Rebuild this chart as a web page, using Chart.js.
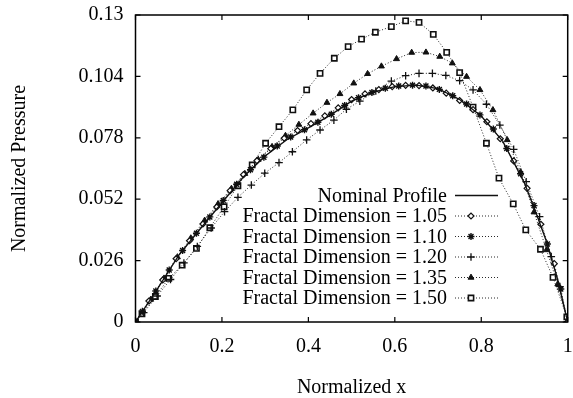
<!DOCTYPE html>
<html>
<head>
<meta charset="utf-8">
<script src="https://cdn.jsdelivr.net/npm/chart.js@4/dist/chart.umd.min.js"></script>
<style>
html,body{margin:0;padding:0;background:#fff;}
#c{display:block;}
</style>
</head>
<body>
<canvas id="c" width="573" height="398"></canvas>
<script>
// ---- data ----
const xTickValues = [0, 0.2, 0.4, 0.6, 0.8, 1];
const xTickLabels = ['0', '0.2', '0.4', '0.6', '0.8', '1'];
const yTickValues = [0, 0.026, 0.052, 0.078, 0.104, 0.13];
const yTickLabels = ['0', '0.026', '0.052', '0.078', '0.104', '0.13'];

const seriesLabels = ['Nominal Profile', 'Fractal Dimension = 1.05', 'Fractal Dimension = 1.10',
  'Fractal Dimension = 1.20', 'Fractal Dimension = 1.35', 'Fractal Dimension = 1.50'];

const nominalX = [0, 0.05, 0.1, 0.15, 0.2, 0.25, 0.3, 0.35, 0.4, 0.45, 0.5, 0.55, 0.6, 0.65, 0.7, 0.75, 0.8, 0.85, 0.9, 0.925, 0.95, 0.975, 1.0];
const nominalY = [0, 0.0138, 0.0282, 0.0395, 0.0505, 0.0615, 0.0703, 0.0772, 0.0822, 0.0875, 0.0935, 0.0973, 0.0997, 0.1003, 0.0988, 0.0942, 0.0872, 0.0765, 0.0588, 0.0470, 0.0345, 0.0190, 0];

const fd105X = [0, 0.031, 0.063, 0.094, 0.125, 0.156, 0.188, 0.219, 0.25, 0.281, 0.313, 0.344, 0.375, 0.406, 0.438, 0.469, 0.5, 0.531, 0.563, 0.594, 0.625, 0.656, 0.688, 0.719, 0.75, 0.781, 0.813, 0.844, 0.875, 0.906, 0.938, 0.969, 1.0];
const fd105Y = [0, 0.0089, 0.0178, 0.0268, 0.0344, 0.0415, 0.0487, 0.0556, 0.0624, 0.0683, 0.0734, 0.0778, 0.0811, 0.0840, 0.0873, 0.0907, 0.0942, 0.0966, 0.0984, 0.0997, 0.1002, 0.1001, 0.0991, 0.0969, 0.0938, 0.0899, 0.0848, 0.0776, 0.0682, 0.0566, 0.0414, 0.0247, 0];

const fd110X = [0, 0.016, 0.047, 0.078, 0.109, 0.141, 0.172, 0.203, 0.234, 0.266, 0.297, 0.328, 0.359, 0.391, 0.422, 0.453, 0.484, 0.516, 0.547, 0.578, 0.609, 0.641, 0.672, 0.703, 0.734, 0.766, 0.797, 0.828, 0.859, 0.891, 0.922, 0.953, 0.984, 1.0];
const fd110Y = [0, 0.0045, 0.0131, 0.0220, 0.0303, 0.0376, 0.0445, 0.0515, 0.0583, 0.0645, 0.0698, 0.0745, 0.0783, 0.0814, 0.0846, 0.0880, 0.0917, 0.0950, 0.0972, 0.0990, 0.0999, 0.1003, 0.0999, 0.0985, 0.0958, 0.0923, 0.0877, 0.0817, 0.0735, 0.0628, 0.0493, 0.0330, 0.0140, 0];

const fd120X = [0, 0.019, 0.05, 0.081, 0.112, 0.143, 0.175, 0.206, 0.237, 0.268, 0.299, 0.332, 0.363, 0.396, 0.427, 0.459, 0.488, 0.519, 0.556, 0.592, 0.625, 0.656, 0.687, 0.718, 0.75, 0.781, 0.812, 0.843, 0.875, 0.904, 0.935, 0.962, 0.982, 1.0];
const fd120Y = [0, 0.0040, 0.0110, 0.0180, 0.0250, 0.0320, 0.0398, 0.0467, 0.0528, 0.0580, 0.0630, 0.0675, 0.0721, 0.0771, 0.0813, 0.0855, 0.0901, 0.0935, 0.0978, 0.1020, 0.1043, 0.1053, 0.1053, 0.1044, 0.1022, 0.0983, 0.0922, 0.0834, 0.0731, 0.0594, 0.0446, 0.0277, 0.0150, 0];

const fd135X = [0, 0.035, 0.066, 0.097, 0.128, 0.160, 0.191, 0.222, 0.253, 0.284, 0.316, 0.347, 0.378, 0.411, 0.443, 0.473, 0.505, 0.537, 0.569, 0.604, 0.639, 0.672, 0.704, 0.733, 0.766, 0.797, 0.827, 0.860, 0.891, 0.922, 0.951, 0.977, 1.0];
const fd135Y = [0, 0.0095, 0.0185, 0.0275, 0.0355, 0.0430, 0.0500, 0.0565, 0.0628, 0.0688, 0.0742, 0.0789, 0.0836, 0.0884, 0.0929, 0.0966, 0.1011, 0.1051, 0.1083, 0.1114, 0.1141, 0.1142, 0.1124, 0.1096, 0.1039, 0.0983, 0.0898, 0.0771, 0.0635, 0.0465, 0.0305, 0.0160, 0];

const fd150X = [0, 0.015, 0.046, 0.077, 0.108, 0.141, 0.172, 0.205, 0.237, 0.270, 0.301, 0.332, 0.364, 0.396, 0.427, 0.460, 0.492, 0.523, 0.555, 0.592, 0.625, 0.656, 0.689, 0.720, 0.750, 0.781, 0.812, 0.841, 0.874, 0.903, 0.937, 0.966, 0.998];
const fd150Y = [0, 0.0035, 0.0108, 0.0185, 0.0241, 0.0312, 0.0399, 0.0488, 0.0577, 0.0665, 0.0757, 0.0827, 0.0898, 0.0983, 0.1053, 0.1117, 0.1166, 0.1198, 0.1227, 0.1251, 0.1275, 0.1269, 0.1218, 0.1142, 0.1056, 0.0910, 0.0757, 0.0609, 0.0500, 0.0390, 0.0308, 0.0189, 0.0022];

// ---- chart ----
const pts = (xs, ys) => xs.map((x, i) => ({x: x, y: ys[i]}));
const SERIF = "'Liberation Serif', 'Times New Roman', serif";
const INK = '#111';

const datasets = [
  {label: seriesLabels[0], data: pts(nominalX, nominalY), borderColor: INK, borderWidth: 1.3, pointRadius: 0, borderDash: []},
  {label: seriesLabels[1], data: pts(fd105X, fd105Y), borderColor: INK, borderWidth: 0.9, borderDash: [1, 2],
    pointStyle: 'rectRot', pointRadius: 3, pointBackgroundColor: '#fff', pointBorderColor: INK, pointBorderWidth: 1.2},
  {label: seriesLabels[2], data: pts(fd110X, fd110Y), borderColor: INK, borderWidth: 0.9, borderDash: [1, 2],
    pointStyle: 'star', pointRadius: 3.5, pointBackgroundColor: INK, pointBorderColor: INK, pointBorderWidth: 1.4},
  {label: seriesLabels[3], data: pts(fd120X, fd120Y), borderColor: INK, borderWidth: 0.9, borderDash: [1, 2],
    pointStyle: 'cross', pointRadius: 3.8, pointBackgroundColor: INK, pointBorderColor: INK, pointBorderWidth: 1.3},
  {label: seriesLabels[4], data: pts(fd135X, fd135Y), borderColor: INK, borderWidth: 0.9, borderDash: [1, 2],
    pointStyle: 'triangle', pointRadius: 3.4, pointBackgroundColor: INK, pointBorderColor: INK, pointBorderWidth: 1},
  {label: seriesLabels[5], data: pts(fd150X, fd150Y), borderColor: INK, borderWidth: 0.9, borderDash: [1, 2],
    pointStyle: 'rect', pointRadius: 3.7, pointBackgroundColor: '#fff', pointBorderColor: INK, pointBorderWidth: 1.6}
];
datasets.forEach(d => { d.showLine = true; d.fill = false; d.tension = 0; d.pointHoverRadius = d.pointRadius; });

const frame = {
  id: 'frame',
  afterDatasetsDraw(chart) {
    const {ctx, chartArea: a, scales} = chart;
    ctx.save();
    ctx.setLineDash([]);
    ctx.strokeStyle = '#000';
    ctx.lineWidth = 1.5;
    ctx.strokeRect(a.left, a.top, a.right - a.left, a.bottom - a.top);
    ctx.lineWidth = 1.2;
    const L = 5;
    ctx.beginPath();
    xTickValues.forEach(v => {
      const px = scales.x.getPixelForValue(v);
      ctx.moveTo(px, a.bottom); ctx.lineTo(px, a.bottom - L);
      ctx.moveTo(px, a.top); ctx.lineTo(px, a.top + L);
    });
    yTickValues.forEach(v => {
      const py = scales.y.getPixelForValue(v);
      ctx.moveTo(a.left, py); ctx.lineTo(a.left + L, py);
      ctx.moveTo(a.right, py); ctx.lineTo(a.right - L, py);
    });
    ctx.stroke();

    // legend
    ctx.font = '20px ' + SERIF;
    ctx.textAlign = 'right';
    ctx.textBaseline = 'middle';
    const textRight = 447, lx0 = 455, lx1 = 498, mx = 471, y0 = 195.5, dy = 20.5;
    chart.data.datasets.forEach((ds, i) => {
      const y = y0 + i * dy;
      ctx.fillStyle = '#000';
      ctx.fillText(ds.label, textRight, y + 1);
      ctx.beginPath();
      ctx.setLineDash(ds.borderDash || []);
      ctx.strokeStyle = ds.borderColor;
      ctx.lineWidth = ds.borderWidth;
      ctx.moveTo(lx0, y); ctx.lineTo(lx1, y);
      ctx.stroke();
      ctx.setLineDash([]);
      if (ds.pointRadius) {
        ctx.strokeStyle = ds.pointBorderColor; ctx.fillStyle = ds.pointBackgroundColor; ctx.lineWidth = ds.pointBorderWidth;
        Chart.helpers.drawPoint(ctx, {pointStyle: ds.pointStyle, rotation: 0, radius: ds.pointRadius, borderWidth: ds.pointBorderWidth}, mx, y);
      }
    });
    ctx.restore();
  }
};

new Chart(document.getElementById('c'), {
  type: 'scatter',
  data: {datasets: datasets},
  plugins: [frame],
  options: {
    responsive: false,
    animation: false,
    devicePixelRatio: 1,
    events: [],
    layout: {padding: {left: 0, right: 5, top: 15, bottom: 0}},
    plugins: {legend: {display: false}, tooltip: {enabled: false}},
    scales: {
      x: {
        type: 'linear', min: 0, max: 1,
        afterBuildTicks: s => { s.ticks = xTickValues.map(v => ({value: v})); },
        afterFit: s => { s.height = 76; s.paddingLeft = 0; s.paddingRight = 0; },
        grid: {display: false, drawTicks: false},
        border: {display: false},
        ticks: {padding: 13, color: '#000', font: {family: SERIF, size: 20}, maxRotation: 0,
          callback: (v, i) => xTickLabels[i]},
        title: {display: true, text: 'Normalized x', color: '#000', font: {family: SERIF, size: 20}, padding: {top: 0, bottom: -2}}
      },
      y: {
        type: 'linear', min: 0, max: 0.13,
        afterBuildTicks: s => { s.ticks = yTickValues.map(v => ({value: v})); },
        afterFit: s => { s.width = 135.5; s.paddingTop = 0; s.paddingBottom = 0; },
        grid: {display: false, drawTicks: false},
        border: {display: false},
        ticks: {padding: 12, color: '#000', font: {family: SERIF, size: 20},
          callback: (v, i) => yTickLabels[i]},
        title: {display: true, text: 'Normalized Pressure', color: '#000', font: {family: SERIF, size: 20}, padding: {top: 8, bottom: 0}}
      }
    }
  }
});
</script>
</body>
</html>
